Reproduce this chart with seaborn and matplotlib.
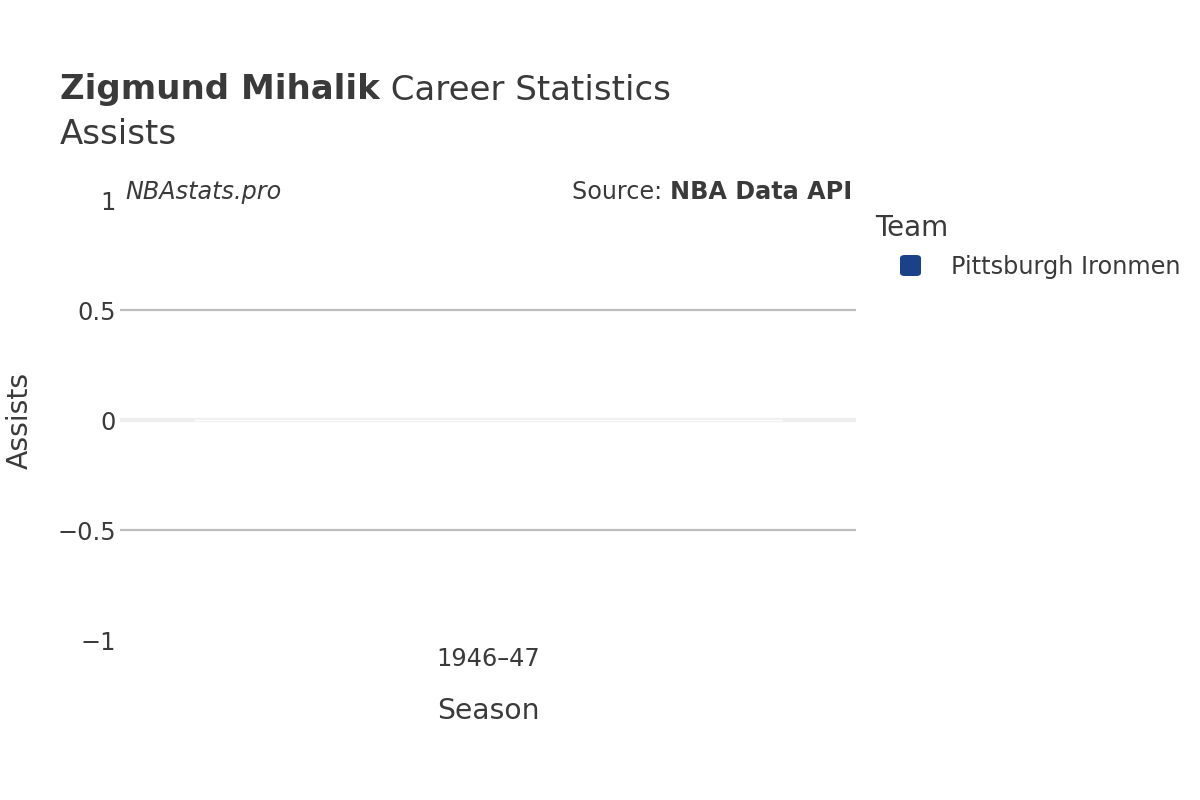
import matplotlib
matplotlib.use("Agg")
import matplotlib.pyplot as plt
import seaborn as sns
import pandas as pd
from matplotlib.patches import FancyBboxPatch

# Data
seasons = ["1946–47"]
teams = ["Pittsburgh Ironmen"]
assists = [0]
team_colors = {"Pittsburgh Ironmen": "#1b4289"}
y_ticks = [-1, -0.5, 0, 0.5, 1]
y_tick_labels = ["−1", "−0.5", "0", "0.5", "1"]

df = pd.DataFrame({"Season": seasons, "Team": teams, "Assists": assists})

sns.set_theme(style="white")
plt.rcParams["font.family"] = ["DejaVu Sans"]
TXT = "#3a3a3a"

fig = plt.figure(figsize=(12, 8), dpi=100)
ax = fig.add_axes([0.1, 0.2, 0.7133 - 0.1, 0.55])

sns.barplot(data=df, x="Season", y="Assists", hue="Team", palette=team_colors,
            ax=ax, legend=False, width=0.8)

ax.set_ylim(-1, 1)
ax.set_yticks(y_ticks)
ax.set_yticklabels(y_tick_labels)
ax.yaxis.grid(True, color="#bdbdbd", linewidth=1.6)
gl = ax.get_ygridlines()
for i, t in enumerate(y_ticks):
    if t in (-1, 1, 0):
        gl[i].set_visible(False)
ax.axhline(0, color="#eeeeee", linewidth=3, zorder=0.5)
ax.set_axisbelow(True)
for s in ax.spines.values():
    s.set_visible(False)
ax.tick_params(axis="both", length=0, labelsize=17.3, labelcolor=TXT)
ax.tick_params(axis="y", pad=3)
ax.tick_params(axis="x", pad=5)
for lbl in ax.get_yticklabels():
    lbl.set_y(lbl.get_position()[1])
ax.set_xlabel("Season", fontsize=20.3, color=TXT, labelpad=19)
ax.set_ylabel("Assists", fontsize=20.3, color=TXT, labelpad=0)
ax.yaxis.set_label_coords(-0.117, 0.5)

# Titles
FS_T = 24.5
fig.text(60 / 1200, 1 - 90 / 800, "Zigmund Mihalik", fontsize=FS_T, fontweight="bold",
         color=TXT, va="center", ha="left")
fig.canvas.draw()
r = fig.texts[-1].get_window_extent()
fig.text(r.x1 / 1200, 1 - 90 / 800, " Career Statistics", fontsize=FS_T,
         color=TXT, va="center", ha="left")
fig.text(60 / 1200, 1 - 135 / 800, "Assists", fontsize=FS_T, color=TXT,
         va="center", ha="left")

# Annotations
FS_A = 17.2
fig.text(125 / 1200, 1 - 192 / 800, "NBAstats.pro", fontsize=FS_A, style="italic",
         color=TXT, va="center", ha="left")
t2 = fig.text(852 / 1200, 1 - 192 / 800, "NBA Data API", fontsize=FS_A,
              fontweight="bold", color=TXT, va="center", ha="right")
fig.canvas.draw()
r2 = t2.get_window_extent()
fig.text(r2.x0 / 1200, 1 - 192 / 800, "Source: ", fontsize=FS_A, color=TXT,
         va="center", ha="right")

# Legend
fig.text(875 / 1200, 1 - 228 / 800, "Team", fontsize=20, color=TXT,
         va="center", ha="left")
sw = FancyBboxPatch((900 / 1200, 1 - 276 / 800), 21 / 1200, 21 / 800,
                    boxstyle="round,pad=0,rounding_size=0.004",
                    transform=fig.transFigure, facecolor=team_colors[teams[0]],
                    edgecolor="none")
fig.patches.append(sw)
fig.text(951 / 1200, 1 - 267 / 800, teams[0], fontsize=17.3, color=TXT,
         va="center", ha="left")

fig.savefig("out.png", dpi=100, facecolor="white")
